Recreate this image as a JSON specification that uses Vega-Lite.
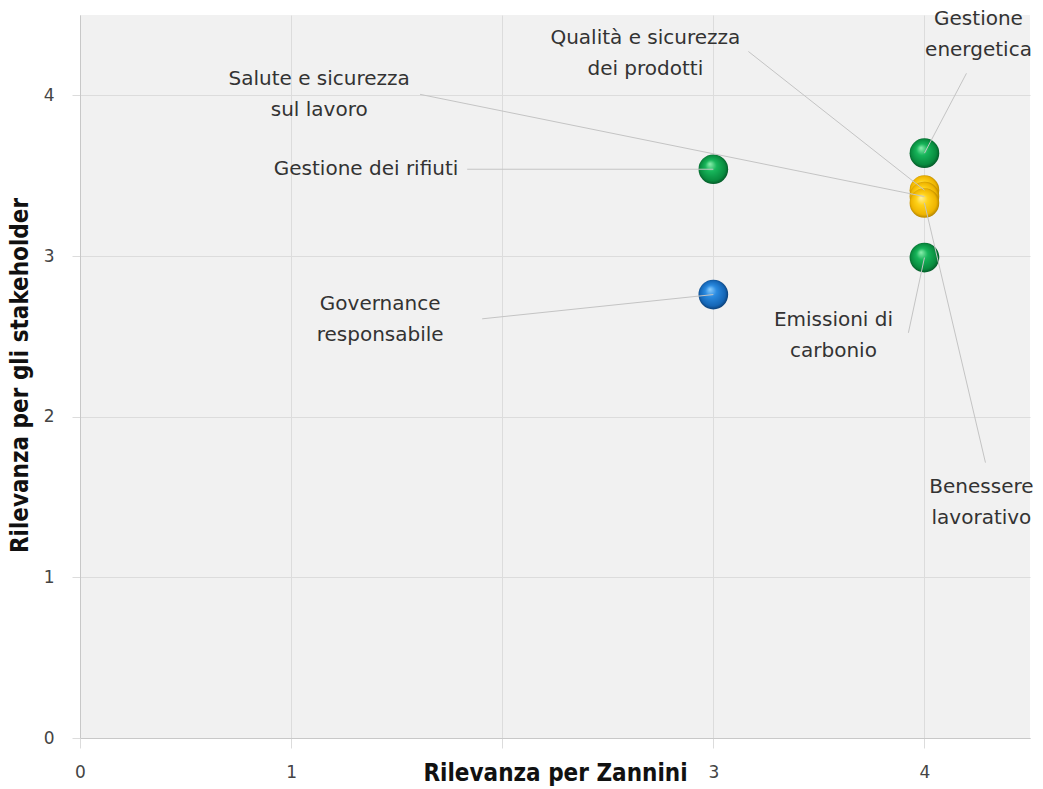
{
  "$schema": "https://vega.github.io/schema/vega-lite/v6.json",
  "width": 950,
  "height": 723,
  "autosize": {"type": "none"},
  "padding": {"left": 80, "top": 15, "right": 13, "bottom": 51},
  "background": "white",
  "config": {
    "view": {"fill": "#f1f1f1", "stroke": null},
    "font": "DejaVu Sans"
  },
  "data": {
    "values": [
      {"tema": "Gestione energetica", "label": "Gestione\nenergetica", "zannini": 4, "stakeholder": 3.64, "gruppo": "Ambiente", "tx": 4.256, "ty": 4.478, "lx": 4.199, "ly": 4.137},
      {"tema": "Qualità e sicurezza dei prodotti", "label": "Qualità e sicurezza\ndei prodotti", "zannini": 4, "stakeholder": 3.41, "gruppo": "Sociale", "tx": 2.678, "ty": 4.354, "lx": 3.166, "ly": 4.273},
      {"tema": "Salute e sicurezza sul lavoro", "label": "Salute e sicurezza\nsul lavoro", "zannini": 4, "stakeholder": 3.37, "gruppo": "Sociale", "tx": 1.133, "ty": 4.099, "lx": 1.611, "ly": 4.006},
      {"tema": "Benessere lavorativo", "label": "Benessere\nlavorativo", "zannini": 4, "stakeholder": 3.33, "gruppo": "Sociale", "tx": 4.27, "ty": 1.565, "lx": 4.289, "ly": 1.714},
      {"tema": "Gestione dei rifiuti", "label": "Gestione dei rifiuti", "zannini": 3, "stakeholder": 3.54, "gruppo": "Ambiente", "tx": 1.355, "ty": 3.54, "lx": 1.834, "ly": 3.54},
      {"tema": "Emissioni di carbonio", "label": "Emissioni di\ncarbonio", "zannini": 4, "stakeholder": 2.99, "gruppo": "Ambiente", "tx": 3.569, "ty": 2.602, "lx": 3.924, "ly": 2.522},
      {"tema": "Governance responsabile", "label": "Governance\nresponsabile", "zannini": 3, "stakeholder": 2.76, "gruppo": "Governance", "tx": 1.422, "ty": 2.702, "lx": 1.905, "ly": 2.609}
    ]
  },
  "encoding": {
    "x": {
      "field": "zannini", "type": "quantitative",
      "scale": {"domain": [0, 4.5], "nice": false, "zero": false},
      "axis": {
        "title": "Rilevanza per Zannini",
        "values": [0, 1, 2, 3, 4],
        "labelExpr": "datum.value == 2 ? '' : datum.label",
        "labelFlush": false,
        "grid": true, "gridColor": "#dcdcdc", "gridWidth": 1,
        "domainColor": "#c8c8c8", "tickColor": "#dcdcdc", "tickSize": 10,
        "labelFontSize": 17, "labelColor": "#444", "labelPadding": 16, "labelFont": "DejaVu Sans",
        "titleFont": "DejaVu Sans Condensed", "titleFontSize": 24, "titleFontWeight": "bold", "titleColor": "#111",
        "titleX": 475, "titleY": 35, "titleBaseline": "middle", "titleAlign": "center"
      }
    },
    "y": {
      "field": "stakeholder", "type": "quantitative",
      "scale": {"domain": [0, 4.5], "nice": false, "zero": false},
      "axis": {
        "title": "Rilevanza per gli stakeholder",
        "values": [0, 1, 2, 3, 4],
        "labelFlush": false,
        "grid": true, "gridColor": "#dcdcdc", "gridWidth": 1,
        "domainColor": "#c8c8c8", "tickColor": "#dcdcdc", "tickSize": 8,
        "labelFontSize": 17, "labelColor": "#444", "labelPadding": 18, "labelFont": "DejaVu Sans",
        "titleFont": "DejaVu Sans Condensed", "titleFontSize": 24, "titleFontWeight": "bold", "titleColor": "#111",
        "titleX": -60, "titleY": 360, "titleBaseline": "middle", "titleAlign": "center", "titleAngle": -90
      }
    }
  },
  "layer": [
    {
      "transform": [{"filter": "datum.gruppo == 'Ambiente'"}],
      "mark": {"type": "point", "filled": true, "shape": "circle", "size": 880, "opacity": 1,
        "fill": {"gradient": "radial", "x1": 0.38, "y1": 0.32, "r1": 0, "x2": 0.5, "y2": 0.5, "r2": 0.55,
          "stops": [{"offset": 0, "color": "#8ff0b0"}, {"offset": 0.35, "color": "#17b55a"}, {"offset": 0.78, "color": "#088a3e"}, {"offset": 1, "color": "#03451f"}]}}
    },
    {
      "transform": [{"filter": "datum.gruppo == 'Sociale'"}],
      "mark": {"type": "point", "filled": true, "shape": "circle", "size": 880, "opacity": 1,
        "fill": {"gradient": "radial", "x1": 0.38, "y1": 0.32, "r1": 0, "x2": 0.5, "y2": 0.5, "r2": 0.55,
          "stops": [{"offset": 0, "color": "#fff2a0"}, {"offset": 0.35, "color": "#ffd21a"}, {"offset": 0.78, "color": "#efb400"}, {"offset": 1, "color": "#9a7000"}]}}
    },
    {
      "transform": [{"filter": "datum.gruppo == 'Governance'"}],
      "mark": {"type": "point", "filled": true, "shape": "circle", "size": 880, "opacity": 1,
        "fill": {"gradient": "radial", "x1": 0.38, "y1": 0.32, "r1": 0, "x2": 0.5, "y2": 0.5, "r2": 0.55,
          "stops": [{"offset": 0, "color": "#8fd0ff"}, {"offset": 0.35, "color": "#2a8ae0"}, {"offset": 0.78, "color": "#1465b5"}, {"offset": 1, "color": "#082f5c"}]}}
    },
    {
      "mark": {"type": "rule", "color": "#c4c4c4", "strokeWidth": 1},
      "encoding": {
        "x": {"field": "lx", "type": "quantitative"},
        "y": {"field": "ly", "type": "quantitative"},
        "x2": {"field": "zannini"},
        "y2": {"field": "stakeholder"}
      }
    },
    {
      "mark": {"type": "text", "fontSize": 20, "color": "#333", "lineBreak": "\n", "lineHeight": 31, "align": "center", "baseline": "middle", "font": "DejaVu Sans"},
      "encoding": {
        "x": {"field": "tx", "type": "quantitative"},
        "y": {"field": "ty", "type": "quantitative"},
        "text": {"field": "label"}
      }
    }
  ]
}
